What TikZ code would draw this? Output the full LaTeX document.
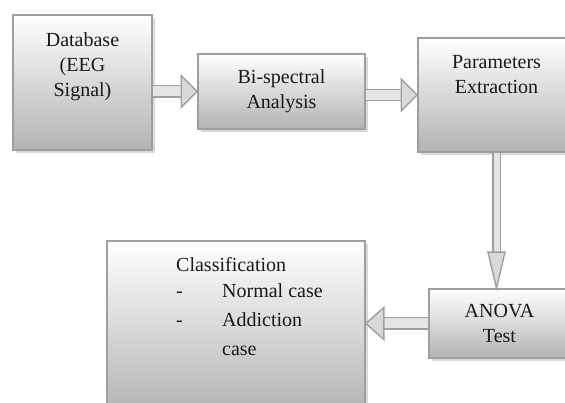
\documentclass[tikz,border=0pt]{standalone}
\usepackage{fontspec}
\setmainfont{Liberation Serif}
\usetikzlibrary{shadows}
\tikzset{
  blockbox/.style={draw=gray!75, line width=1.6pt, top color=white, bottom color=gray!60,
    drop shadow={opacity=0.3, shadow xshift=3pt, shadow yshift=-3pt},
    align=center, text=black!90, inner sep=0pt},
  flow/.style={draw=gray!75, line width=1.4pt, double=gray!20, double distance=10pt},
  downflow/.style={flow, double distance=6pt},
  flowhead/.style={draw=gray!75, line width=1.4pt, fill=gray!30, line join=miter}
}
\begin{document}
\begin{tikzpicture}[x=1pt, y=-1pt]
    \fontsize{20}{25}\selectfont
    \useasboundingbox (0,0) rectangle (565,403);
    \clip (0,0) rectangle (565,403);
    \node[blockbox, minimum width=139pt, minimum height=135pt, text depth=35pt] (db) at (82.5,82.5) {Database\\(EEG\\Signal)};
    \node[blockbox, minimum width=167pt, minimum height=75pt] (bi) at (281.5,91.5) {Bi-spectral\\Analysis};
    \node[blockbox, minimum width=157pt, minimum height=114pt, text depth=41pt] (par) at (496.5,95) {Parameters\\Extraction};
    \node[blockbox, minimum width=141pt, minimum height=69pt] (an) at (499.5,323.5) {ANOVA\\Test};
    \node[blockbox, minimum width=258pt, minimum height=174pt] (cls) at (236,328) {};
    \node[anchor=north west, align=left, inner sep=0pt, text=black!90] (clstxt) at (176,257)
      {Classification\\[1pt]
       \makebox[46pt][l]{-}Normal case\\[4pt]
       \makebox[46pt][l]{-}Addiction\\[4pt]
       \hspace*{46pt}case};
    \draw[flow, shorten >=14pt] (db.east |- bi.west) -- (bi.west);
    \draw[flowhead] (bi.west) -- ++(-16,-16) -- ++(0,32) -- cycle;
    \draw[flow, shorten >=14pt] (bi.east |- par.west) -- (par.west);
    \draw[flowhead] (par.west) -- ++(-16,-16) -- ++(0,32) -- cycle;
    \draw[downflow, shorten >=34pt] (par.south) -- (par.south |- an.north);
    \draw[flowhead] (par.south |- an.north) -- ++(-8.5,-36) -- ++(17,0) -- cycle;
    \draw[flow, shorten >=16pt] (an.west) -- (an.west -| cls.east);
    \draw[flowhead] (an.west -| cls.east) -- ++(18,-16) -- ++(0,32) -- cycle;
\end{tikzpicture}
\end{document}
